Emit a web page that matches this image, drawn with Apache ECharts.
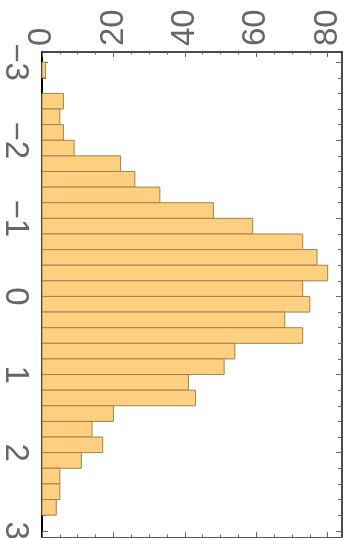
<!DOCTYPE html>
<html>
<head>
<meta charset="utf-8">
<script src="https://cdn.jsdelivr.net/npm/echarts@6/dist/echarts.min.js"></script>
<style>
html,body{margin:0;padding:0;background:#fff;}
#chart{width:352px;height:538px;}
</style>
</head>
<body>
<div id="chart" style="width:352px;height:538px;"></div>
<script>
// Histogram bins (start of each 0.2-wide bin) and counts
const binStarts = [-3.0,-2.8,-2.6,-2.4,-2.2,-2.0,-1.8,-1.6,-1.4,-1.2,-1.0,-0.8,-0.6,-0.4,-0.2,0.0,0.2,0.4,0.6,0.8,1.0,1.2,1.4,1.6,1.8,2.0,2.2,2.4,2.6];
const binEnds   = [-2.8,-2.6,-2.4,-2.2,-2.0,-1.8,-1.6,-1.4,-1.2,-1.0,-0.8,-0.6,-0.4,-0.2,0.0,0.2,0.4,0.6,0.8,1.0,1.2,1.4,1.6,1.8,2.0,2.2,2.4,2.6,2.8];
const counts    = [1,0,6,5,6,9,22,26,33,48,59,73,77,80,73,75,68,73,54,51,41,43,20,14,17,11,5,5,4];

// Tick positions / labels
const countTicksMajor = [0,20,40,60,80];
const countTicksMinor = [5,10,15,25,30,35,45,50,55,65,70,75];
const valueTicksMajor = [-3,-2,-1,0,1,2,3];
const valueTicksMinor = [-2.8,-2.6,-2.4,-2.2,-1.8,-1.6,-1.4,-1.2,-0.8,-0.6,-0.4,-0.2,0.2,0.4,0.6,0.8,1.2,1.4,1.6,1.8,2.2,2.4,2.6,2.8];

const X_MIN = 0, X_MAX = 84;
const Y_MIN = -3.13, Y_MAX = 3.08;

const data = binStarts.map((s, i) => [s, binEnds[i], counts[i]]).filter(d => d[2] > 0);

const chart = echarts.init(document.getElementById('chart'), null, {renderer: 'canvas', width: 352, height: 538});

const labelFont = {fontFamily: 'Liberation Sans, Arial, sans-serif', fontSize: 33, color: '#666666'};

function xAxisDef(pos, ticks, len, showLabel, showLine, lineColor, lineW) {
  return {
    type: 'value', position: pos, min: X_MIN, max: X_MAX,
    splitLine: {show: false},
    axisLine: {show: showLine, onZero: false, lineStyle: {color: lineColor, width: lineW}},
    axisTick: {show: true, inside: true, length: len, customValues: ticks, lineStyle: {color: '#666', width: 1}},
    axisLabel: showLabel ? Object.assign({show: true, customValues: ticks, rotate: -90, margin: 6}, labelFont) : {show: false}
  };
}
function yAxisDef(pos, ticks, len, showLabel, showLine, lineColor, lineW) {
  return {
    type: 'value', position: pos, inverse: true, min: Y_MIN, max: Y_MAX,
    splitLine: {show: false},
    axisLine: {show: showLine, onZero: false, lineStyle: {color: lineColor, width: lineW}},
    axisTick: {show: true, inside: true, length: len, customValues: ticks, lineStyle: {color: '#666', width: 1}},
    axisLabel: showLabel ? Object.assign({show: true, customValues: ticks, rotate: -90, margin: 10,
      formatter: v => (v < 0 ? '\u2212' + Math.abs(v) : String(v))}, labelFont) : {show: false}
  };
}

chart.setOption({
  animation: false,
  backgroundColor: '#ffffff',
  grid: {left: 42, right: 10, top: 52, bottom: 1, containLabel: false, outerBoundsMode: 'none'},
  xAxis: [
    xAxisDef('top', countTicksMajor, 5, true, true, '#111', 1.5),
    xAxisDef('top', countTicksMinor, 2.5, false, false, '#111', 1),
    xAxisDef('bottom', countTicksMajor, 5, false, true, '#555', 1),
    xAxisDef('bottom', countTicksMinor, 2.5, false, false, '#555', 1)
  ],
  yAxis: [
    yAxisDef('left', valueTicksMajor, 6, true, true, '#000', 2),
    yAxisDef('left', valueTicksMinor, 4, false, false, '#000', 1),
    yAxisDef('right', valueTicksMajor, 6, false, true, '#111', 1.5),
    yAxisDef('right', valueTicksMinor, 4, false, false, '#111', 1)
  ],
  series: [{
    type: 'custom',
    xAxisIndex: 0, yAxisIndex: 0,
    data: data,
    encode: {x: 2, y: [0, 1]},
    renderItem: function (params, api) {
      const p0 = api.coord([0, api.value(0)]);
      const p1 = api.coord([api.value(2), api.value(1)]);
      return {
        type: 'rect',
        shape: {x: p0[0], y: p0[1], width: p1[0] - p0[0], height: p1[1] - p0[1]},
        style: {fill: '#fecf7e', stroke: '#9a8452', lineWidth: 1}
      };
    }
  }]
});
</script>
</body>
</html>
